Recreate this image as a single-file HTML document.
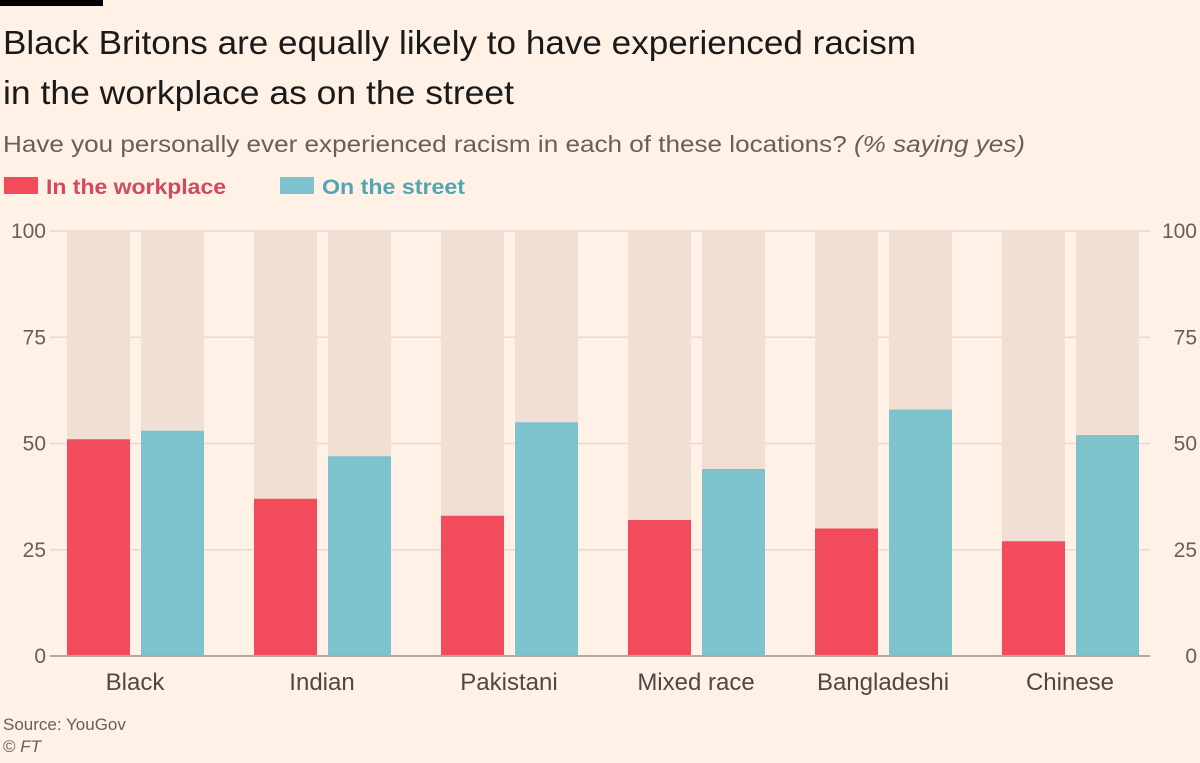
<!DOCTYPE html>
<html><head><meta charset="utf-8"><style>
body{margin:0;background:#fff1e5;width:1200px;height:758px;overflow:hidden;font-family:"Liberation Sans",sans-serif}
</style></head><body>
<svg width="1200" height="758" xmlns="http://www.w3.org/2000/svg">
<rect x="0" y="0" width="1200" height="758" fill="#fff1e5"/>
<rect x="0" y="0" width="103" height="6" fill="#000"/>
<text x="3" y="54" font-size="33" fill="#1a1a1a" textLength="913" lengthAdjust="spacingAndGlyphs">Black Britons are equally likely to have experienced racism</text>
<text x="3" y="104" font-size="33" fill="#1a1a1a" textLength="511" lengthAdjust="spacingAndGlyphs">in the workplace as on the street</text>
<text x="3" y="152" font-size="23" fill="#66605c" textLength="1022" lengthAdjust="spacingAndGlyphs">Have you personally ever experienced racism in each of these locations? <tspan font-style="italic">(% saying yes)</tspan></text>
<rect x="4" y="177" width="34" height="17" fill="#f24b5c"/>
<text x="46" y="194" font-size="21" font-weight="bold" fill="#d4495b" textLength="180" lengthAdjust="spacingAndGlyphs">In the workplace</text>
<rect x="280" y="177" width="34" height="17" fill="#7cc3cd"/>
<text x="322" y="194" font-size="21" font-weight="bold" fill="#52a6b3" textLength="143" lengthAdjust="spacingAndGlyphs">On the street</text>
<g id="plot"></g>
<text x="3" y="730" font-size="17" fill="#66605c">Source: YouGov</text>
<text x="3" y="752" font-size="17" fill="#66605c">© <tspan font-style="italic">FT</tspan></text>
</svg>
<script>
const categories=["Black","Indian","Pakistani","Mixed race","Bangladeshi","Chinese"];
const workplace=[51,37,33,32,30,27];
const street=[53,47,55,44,58,52];
const ticks=[0,25,50,75,100];
const NS="http://www.w3.org/2000/svg";
const g=document.getElementById("plot");
const y0=656,y100=231;
function y(v){return y0-(v/100)*(y0-y100);}
function groupX(i){return 67+i*187;}
function mk(t,a){const e=document.createElementNS(NS,t);for(const k in a)e.setAttribute(k,a[k]);g.appendChild(e);return e;}
ticks.forEach(t=>{
  const l=mk("line",{x1:50,x2:1150,y1:y(t),y2:y(t),stroke:t===0?"#b3a8a0":"#e6d9ce","stroke-width":t===0?2:1.5});
  
  
  const a=mk("text",{x:46,y:y(t)+7,"font-size":21,fill:"#66605c","text-anchor":"end"});a.textContent=t;
  
  
  const b=mk("text",{x:1197,y:y(t)+7,"font-size":21,fill:"#66605c","text-anchor":"end"});b.textContent=t;
  
  
});
categories.forEach((c,i)=>{
  const x=groupX(i);
  [[x,workplace[i],"#f24b5c","workplace"],[x+74,street[i],"#7cc3cd","street"]].forEach(([bx,v,col,s])=>{
    const bg=mk("rect",{x:bx,y:y(100)+1,width:63,height:y(0)-y(100)-1,fill:"#f2dfd3"});
    
    
    const r=mk("rect",{x:bx,y:y(v),width:63,height:y(0)-y(v),fill:col});
    
    
  });
  const t=mk("text",{x:x+68,y:690,"font-size":24,fill:"#4d4845","text-anchor":"middle"});t.textContent=c;
  
  
});
const bl=mk("line",{x1:50,x2:1150,y1:y(0),y2:y(0),stroke:"#b3a8a0","stroke-width":2});


</script>
</body></html>
